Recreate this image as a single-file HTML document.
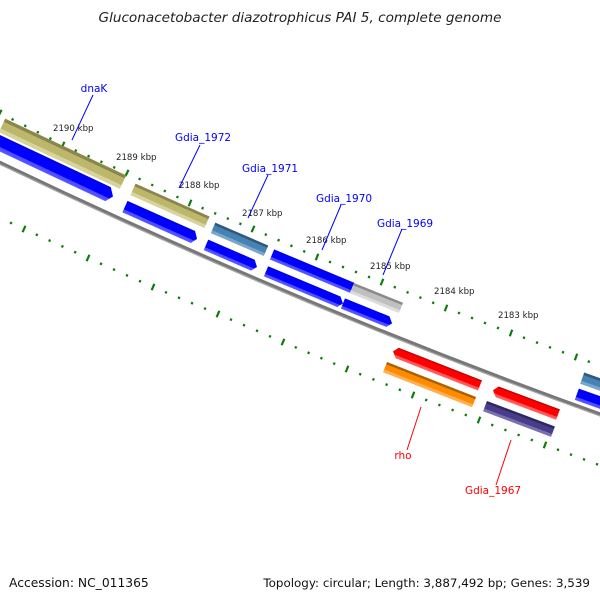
<!DOCTYPE html>
<html><head><meta charset="utf-8"><style>
html,body{margin:0;padding:0;background:#fff;}
svg{display:block;}
text{font-family:"DejaVu Sans","Liberation Sans",sans-serif;}
</style></head><body>
<svg id="s" width="600" height="600" viewBox="0 0 600 600" xmlns="http://www.w3.org/2000/svg">
<defs>
<linearGradient id="gb" x1="0" y1="0" x2="0" y2="1"><stop offset="0" stop-color="#0000d8"/><stop offset="0.2" stop-color="#0000ff"/><stop offset="0.72" stop-color="#0000ff"/><stop offset="0.73" stop-color="#4848ff"/><stop offset="1" stop-color="#5a5aff"/></linearGradient>
<linearGradient id="gk" x1="0" y1="0" x2="0" y2="1"><stop offset="0" stop-color="#8b864e"/><stop offset="0.22" stop-color="#8b864e"/><stop offset="0.23" stop-color="#bdb76b"/><stop offset="0.72" stop-color="#bdb76b"/><stop offset="0.73" stop-color="#d7d39f"/><stop offset="1" stop-color="#d7d39f"/></linearGradient>
<linearGradient id="gs" x1="0" y1="0" x2="0" y2="1"><stop offset="0" stop-color="#2f5a7e"/><stop offset="0.22" stop-color="#2f5a7e"/><stop offset="0.23" stop-color="#4682b4"/><stop offset="0.72" stop-color="#4682b4"/><stop offset="0.73" stop-color="#7aa6cb"/><stop offset="1" stop-color="#7aa6cb"/></linearGradient>
<linearGradient id="gg" x1="0" y1="0" x2="0" y2="1"><stop offset="0" stop-color="#8a8a8a"/><stop offset="0.22" stop-color="#8a8a8a"/><stop offset="0.23" stop-color="#c0c0c0"/><stop offset="0.72" stop-color="#c0c0c0"/><stop offset="0.73" stop-color="#dcdcdc"/><stop offset="1" stop-color="#dcdcdc"/></linearGradient>
<linearGradient id="gr" x1="0" y1="0" x2="0" y2="1"><stop offset="0" stop-color="#b00000"/><stop offset="0.2" stop-color="#ff0000"/><stop offset="0.72" stop-color="#ff0000"/><stop offset="0.73" stop-color="#ff5050"/><stop offset="1" stop-color="#ff6060"/></linearGradient>
<linearGradient id="go" x1="0" y1="0" x2="0" y2="1"><stop offset="0" stop-color="#b06000"/><stop offset="0.22" stop-color="#b06000"/><stop offset="0.23" stop-color="#ff8c00"/><stop offset="0.72" stop-color="#ff8c00"/><stop offset="0.73" stop-color="#ffae50"/><stop offset="1" stop-color="#ffae50"/></linearGradient>
<linearGradient id="gp" x1="0" y1="0" x2="0" y2="1"><stop offset="0" stop-color="#2e2760"/><stop offset="0.22" stop-color="#2e2760"/><stop offset="0.23" stop-color="#483d8b"/><stop offset="0.72" stop-color="#483d8b"/><stop offset="0.73" stop-color="#7a70b0"/><stop offset="1" stop-color="#7a70b0"/></linearGradient>
</defs>

<text x="300" y="22" font-size="13.6" font-style="italic" text-anchor="middle" fill="#222">Gluconacetobacter diazotrophicus PAI 5, complete genome</text>

<path d="M-10,158 Q300,307.3 610,418" fill="none" stroke="#777" stroke-width="4"/>
<path d="M-10,159.5 Q300,308.8 610,419.5" fill="none" stroke="#aaa" stroke-width="1"/>

<g id="ticks"></g>

<g transform="translate(62.5,153.8) rotate(25.1)"><rect x="-66.8" y="-7.5" width="133.6" height="15" fill="url(#gk)"/></g>
<g transform="translate(170,205.8) rotate(24.0)"><rect x="-40.5" y="-6.3" width="81" height="12.6" fill="url(#gk)"/></g>
<g transform="translate(239.5,239.3) rotate(23.3)"><rect x="-28.8" y="-5.7" width="57.7" height="11.4" fill="url(#gs)"/></g>
<g transform="translate(312,271.1) rotate(22.6)"><rect x="-43.3" y="-5.5" width="86.7" height="11" fill="url(#gb)"/></g>
<g transform="translate(376.5,298) rotate(21.9)"><rect x="-26.4" y="-5.5" width="52.8" height="11" fill="url(#gg)"/></g>
<g transform="translate(601,384.9) rotate(19.7)"><rect x="-20" y="-6" width="40" height="12" fill="url(#gs)"/></g>

<g transform="translate(46.5,165.2) rotate(25.2)"><polygon points="-73.5,-7.5 67.5,-7.5 73.5,0 68.5,7.5 -73.5,7.5" fill="url(#gb)"/></g>
<g transform="translate(161,222.7) rotate(24.1)"><polygon points="-39.5,-6.3 34.5,-6.3 39.5,0 35.5,6.3 -39.5,6.3" fill="url(#gb)"/></g>
<g transform="translate(231.5,255.9) rotate(23.4)"><polygon points="-27.8,-5.7 22.8,-5.7 27.8,0 23.8,5.7 -27.8,5.7" fill="url(#gb)"/></g>
<g transform="translate(304.5,287.4) rotate(22.7)"><polygon points="-41.7,-5.5 36.7,-5.5 41.7,0 37.7,5.5 -41.7,5.5" fill="url(#gb)"/></g>
<g transform="translate(367.5,313.4) rotate(22.0)"><polygon points="-26.5,-5.5 21.5,-5.5 26.5,0 22.5,5.5 -26.5,5.5" fill="url(#gb)"/></g>
<g transform="translate(598,401.8) rotate(19.7)"><polygon points="-22.5,-6 22.5,-6 22.5,6 -22.5,6" fill="url(#gb)"/></g>

<g transform="translate(436.5,368.4) rotate(21.4)"><polygon points="-46.7,0 -42.7,-5.5 46.7,-5.5 46.7,5.5 -41.7,5.5" fill="url(#gr)"/></g>
<g transform="translate(525.5,402.4) rotate(20.5)"><polygon points="-34.7,0 -30.7,-5.5 34.7,-5.5 34.7,5.5 -29.7,5.5" fill="url(#gr)"/></g>
<g transform="translate(429.5,384.6) rotate(21.5)"><rect x="-47.8" y="-5.5" width="95.7" height="11" fill="url(#go)"/></g>
<g transform="translate(519,418.9) rotate(20.6)"><rect x="-36.3" y="-5.5" width="72.6" height="11" fill="url(#gp)"/></g>

<g font-size="8.6" fill="#222">
<text x="53" y="131">2190 kbp</text>
<text x="116" y="160">2189 kbp</text>
<text x="179" y="188">2188 kbp</text>
<text x="242" y="216">2187 kbp</text>
<text x="306" y="243">2186 kbp</text>
<text x="370" y="269">2185 kbp</text>
<text x="434" y="294">2184 kbp</text>
<text x="498" y="318">2183 kbp</text>
</g>

<g stroke-width="1" fill="none">
<line x1="93" y1="95" x2="72" y2="140" stroke="#0000ff"/>
<line x1="200" y1="145" x2="179" y2="188" stroke="#0000ff"/>
<line x1="268" y1="175" x2="248" y2="218" stroke="#0000ff"/>
<line x1="341" y1="205" x2="322" y2="250" stroke="#0000ff"/>
<line x1="402" y1="229" x2="383" y2="275" stroke="#0000ff"/>
<line x1="421" y1="407" x2="407" y2="450" stroke="#ff0000"/>
<line x1="511" y1="440" x2="496" y2="485" stroke="#ff0000"/>
</g>
<g font-size="10.5" text-anchor="middle">
<text x="94" y="92" fill="#0000ff">dnaK</text>
<text x="203" y="141" fill="#0000ff">Gdia_1972</text>
<text x="270" y="172" fill="#0000ff">Gdia_1971</text>
<text x="344" y="202" fill="#0000ff">Gdia_1970</text>
<text x="405" y="227" fill="#0000ff">Gdia_1969</text>
<text x="403" y="459" fill="#ff0000">rho</text>
<text x="493" y="494" fill="#ff0000">Gdia_1967</text>
</g>

<text x="9" y="587" font-size="12.3" fill="#111">Accession: NC_011365</text>
<text x="590" y="587" font-size="11.9" fill="#111" text-anchor="end">Topology: circular; Length: 3,887,492 bp; Genes: 3,539</text>
</svg>
<script>
(function(){
var g=document.getElementById('ticks');
var up=[[-63,83],[0,113],[63,145],[127,173],[190,203],[253,229],[317,257],[382,282],[446,308],[511,333],[576,357],[640,380]];
var lo=[[-41,199],[24,229],[88,258],[153,287],[218,314],[283,342],[347,369],[413,395],[479,420],[545,445],[610,469]];
var h='';
function ring(m){
 for(var i=0;i<m.length-1;i++){
  var a=m[i],b=m[i+1];var dx=b[0]-a[0],dy=b[1]-a[1];var L=Math.sqrt(dx*dx+dy*dy);var tx=dx/L,ty=dy/L;var nx=ty,ny=-tx;
  for(var k=0;k<5;k++){
   var x=a[0]+dx*k/5,y=a[1]+dy*k/5;var r=(k==0)?3.5:1.2;
   h+='<line x1="'+(x-nx*r)+'" y1="'+(y-ny*r)+'" x2="'+(x+nx*r)+'" y2="'+(y+ny*r)+'" stroke="#0a7d0a" stroke-width="2.2"/>';
  }
 }
}
ring(up);ring(lo);
g.innerHTML=h;
})();
</script>
</body></html>
